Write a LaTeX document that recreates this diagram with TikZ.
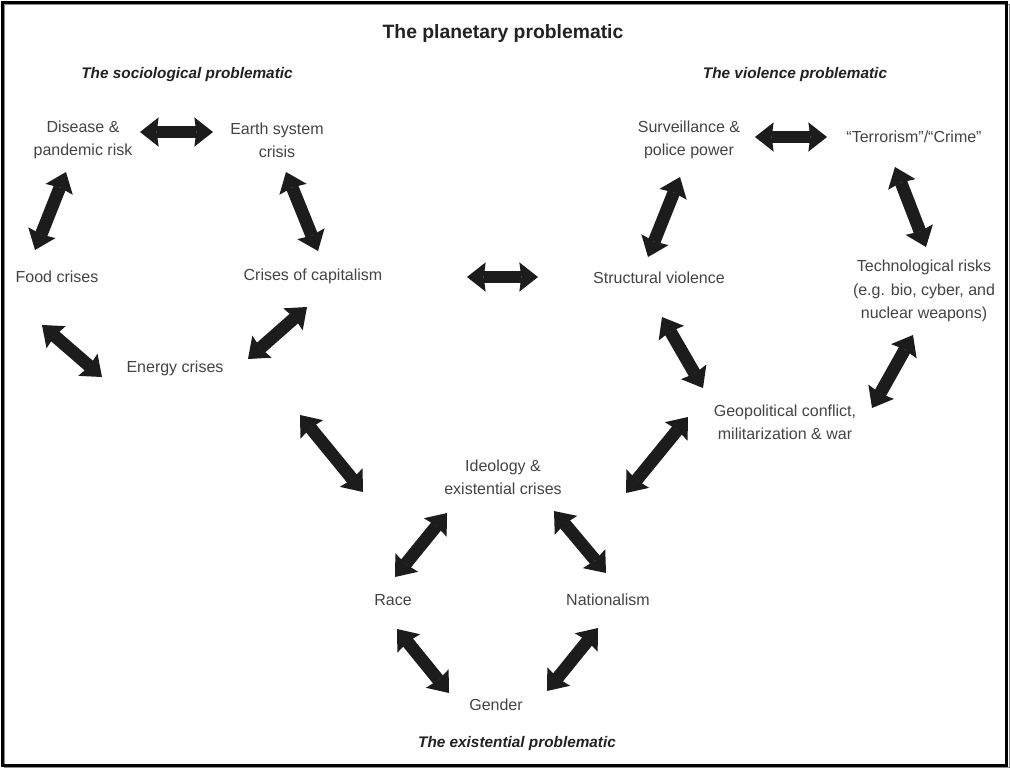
\documentclass[tikz,border=0pt]{standalone}
\usepackage{fontspec}
\setmainfont{Liberation Sans}
\usetikzlibrary{calc,arrows.meta}
\definecolor{arrowcol}{HTML}{1C1C1C}
\definecolor{textcol}{HTML}{444444}
\definecolor{headcol}{HTML}{222222}
\tikzset{
  fat/.tip={Stealth[length=14pt,width=22pt,inset=1.5pt,line width=0pt]},
  dbl/.style={line width=9.5pt, color=arrowcol, fat-fat},
  item/.style={text=textcol, align=center, font=\fontsize{12}{17.5}\selectfont, inner sep=0pt},
  subhead/.style={text=headcol, font=\fontsize{11.5}{14}\selectfont\bfseries\itshape, inner sep=0pt}
}

\begin{document}
\begin{tikzpicture}[x=0.75pt, y=-0.75pt]
		%%%%% START %%%%%
		\useasboundingbox (0, 0) rectangle (1010, 768);
		\fill[white] (0, 0) rectangle (1010, 768);
		\draw[line width=0.6pt, color=black!45] (4, 4) rectangle (1009, 767);
		\draw[line width=2pt] (2.5, 2.5) rectangle (1006.5, 765.5);
		
		\node[text=headcol, font=\fontsize{14.5}{17}\selectfont\bfseries, inner sep=0pt] (title) at (503, 33) {The planetary problematic};
		\node[subhead] (soc) at (187, 75) {The sociological problematic};
		\node[subhead] (vio) at (795, 75) {The violence problematic};
		\node[subhead] (exi) at (517, 744) {The existential problematic};
		
		% sociological
		\node[item] (dis) at (83, 140) {Disease \&\\pandemic risk};
		\node[item] (earth) at (277, 140) {Earth system\\crisis};
		\node[item] (food) at (57, 277) {Food crises};
		\node[item] (cap) at (313, 276) {Crises of capitalism};
		\node[item] (energy) at (175, 368) {Energy crises};
		
		% violence
		\node[item] (surv) at (689, 140) {Surveillance \&\\police power};
		\node[item] (terr) at (914, 137) {“Terrorism”/“Crime”};
		\node[item] (struct) at (659, 278) {Structural violence};
		\node[item] (tech) at (924, 291) {Technological risks\\(e.g. bio, cyber, and\\nuclear weapons)};
		\node[item] (geo) at (785, 422) {Geopolitical conflict,\\militarization \& war};
		
		% existential
		\node[item] (ideo) at (503, 477) {Ideology \&\\existential crises};
		\node[item] (race) at (393, 600) {Race};
		\node[item] (nat) at (608, 600) {Nationalism};
		\node[item] (gender) at (496, 705) {Gender};
		
		\draw[dbl] ($(dis)+(57,-8)$) -- ($(earth)+(-64,-8)$);
		\draw[dbl] ($(dis)+(-17,32)$) -- ($(food)+(-22,-27)$);
		\draw[dbl] ($(earth)+(9,32)$) -- ($(cap)+(5,-25)$);
		\draw[dbl] ($(food)+(-15,48)$) -- ($(energy)+(-73,9)$);
		\draw[dbl] ($(cap)+(-6,31)$) -- ($(energy)+(73,-9)$);
		
		\draw[dbl] ($(cap)+(154,1)$) -- ($(struct)+(-121,-1)$);
		
		\draw[dbl] ($(surv)+(66,-3)$) -- ($(terr)+(-87,0)$);
		\draw[dbl] ($(surv)+(-9,37)$) -- ($(struct)+(-11,-21)$);
		\draw[dbl] ($(terr)+(-19,30)$) -- ($(tech)+(2,-44)$);
		\draw[dbl] ($(struct)+(3,39)$) -- ($(geo)+(-82,-34)$);
		\draw[dbl] ($(tech)+(-11,44)$) -- ($(geo)+(87,-14)$);
		
		\draw[dbl] ($(geo)+(-97,-5)$) -- ($(ideo)+(123,16)$);
		\draw[dbl] ($(energy)+(125,47)$) -- ($(ideo)+(-140,15)$);
		
		\draw[dbl] ($(ideo)+(-56,36)$) -- ($(race)+(2,-23)$);
		\draw[dbl] ($(ideo)+(51,34)$) -- ($(nat)+(-2,-27)$);
		\draw[dbl] ($(race)+(4,29)$) -- ($(gender)+(-47,-12)$);
		\draw[dbl] ($(nat)+(-10,28)$) -- ($(gender)+(51,-14)$);
		%%%%% END %%%%%
\end{tikzpicture}
\end{document}
